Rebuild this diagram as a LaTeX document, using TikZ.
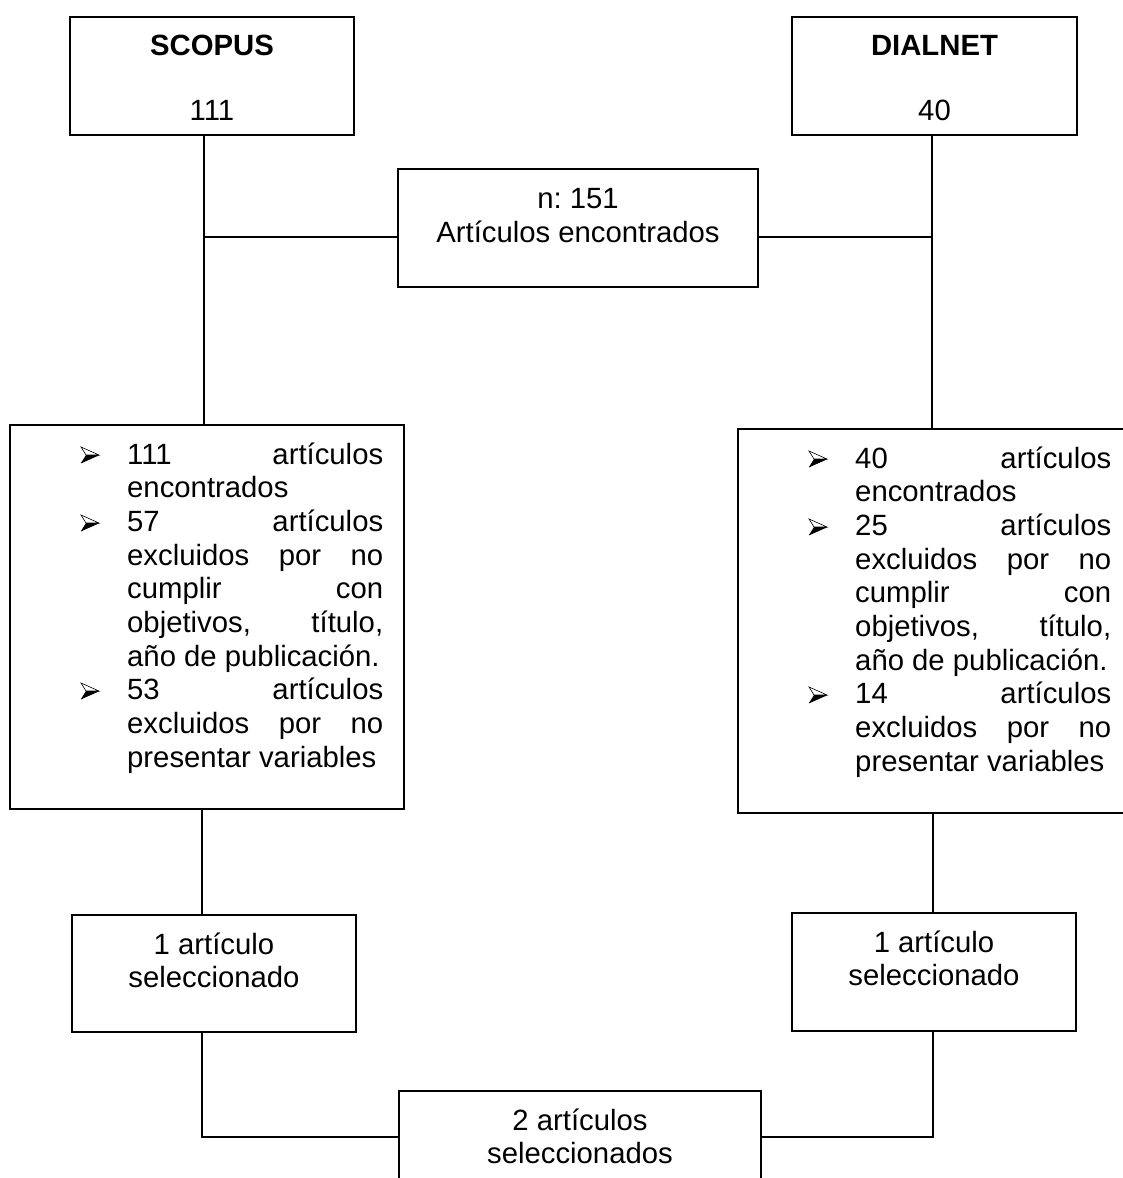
\documentclass[tikz,border=0pt]{standalone}
\usepackage{fontspec}
\setmainfont{Liberation Sans}
\frenchspacing
\newlength{\jw}
\setlength{\jw}{256pt}
\newcommand{\jline}[1]{\makebox[\jw][s]{#1}}
\begin{document}
\begin{tikzpicture}[x=1pt,y=-1pt,
  box/.style={draw=black,line width=1.6pt,minimum width=#1,inner sep=0pt},
  txt/.style={inner sep=0pt,font=\fontsize{29.3}{33.7}\selectfont},
  ltxt/.style={txt,anchor=base west},
  ctxt/.style={txt,anchor=base},
  conn/.style={line width=1.6pt},
  pics/bul/.style={code={
    \draw[line width=0.6pt,fill=white,line join=miter] (0,-8) -- (18,0) -- (5,0) -- cycle;
    \fill[black] (0,8) -- (18,0) -- (5,0) -- cycle;
    \draw[line width=0.6pt,line join=miter] (0,8) -- (18,0);
  }}]
\useasboundingbox (0,0) rectangle (1123,1178);
\clip (0,0) rectangle (1123,1178);
\fill[white] (0,0) rectangle (1123,1178);

% boxes
\node[box=284pt,minimum height=118pt] (scopus) at (212,76) {};
\node[box=285pt,minimum height=118pt] (dialnet) at (934.5,76) {};
\node[box=360pt,minimum height=118pt] (total) at (578,228) {};
\node[box=394pt,minimum height=384pt] (lbox) at (207,617) {};
\node[box=392pt,minimum height=384pt] (rbox) at (934,621) {};
\node[box=284pt,minimum height=117pt] (lsel) at (214,973.5) {};
\node[box=284pt,minimum height=118pt] (rsel) at (934,972) {};
\node[box=362pt,minimum height=130pt] (final) at (580,1156) {};

% box texts
\node[ctxt,font=\fontsize{29.3}{33.7}\selectfont\bfseries] (scopusT) at (212,55) {SCOPUS};
\node[ctxt] (scopusN) at (212,120) {111};
\node[ctxt,font=\fontsize{29.3}{33.7}\selectfont\bfseries] (dialnetT) at (934.5,55) {DIALNET};
\node[ctxt] (dialnetN) at (934.5,120) {40};
\node[ctxt] (totalA) at (578,208) {n: 151};
\node[ctxt] (totalB) at (578,242) {Artículos encontrados};
\node[ctxt] (lselA) at (214,954) {1 artículo};
\node[ctxt] (lselB) at (214,987) {seleccionado};
\node[ctxt] (rselA) at (934,952) {1 artículo};
\node[ctxt] (rselB) at (934,985) {seleccionado};
\node[ctxt] (finalA) at (580,1130) {2 artículos};
\node[ctxt] (finalB) at (580,1163) {seleccionados};

% left list
\node[ltxt] (L0) at (127,464) {\jline{111 artículos}};
\node[ltxt] (L1) at (127,497.7) {encontrados};
\node[ltxt] (L2) at (127,531.4) {\jline{57 artículos}};
\node[ltxt] (L3) at (127,565.1) {\jline{excluidos por no}};
\node[ltxt] (L4) at (127,598.8) {\jline{cumplir con}};
\node[ltxt] (L5) at (127,632.5) {\jline{objetivos, título,}};
\node[ltxt] (L6) at (127,666.2) {año de publicación.};
\node[ltxt] (L7) at (127,699.9) {\jline{53 artículos}};
\node[ltxt] (L8) at (127,733.6) {\jline{excluidos por no}};
\node[ltxt] (L9) at (127,767.3) {presentar variables};
\pic at (81,455) {bul};
\pic at (81,523) {bul};
\pic at (81,691) {bul};

% right list
\node[ltxt] (R0) at (855,468) {\jline{40 artículos}};
\node[ltxt] (R1) at (855,501.7) {encontrados};
\node[ltxt] (R2) at (855,535.4) {\jline{25 artículos}};
\node[ltxt] (R3) at (855,569.1) {\jline{excluidos por no}};
\node[ltxt] (R4) at (855,602.8) {\jline{cumplir con}};
\node[ltxt] (R5) at (855,636.5) {\jline{objetivos, título,}};
\node[ltxt] (R6) at (855,670.2) {año de publicación.};
\node[ltxt] (R7) at (855,703.9) {\jline{14 artículos}};
\node[ltxt] (R8) at (855,737.6) {\jline{excluidos por no}};
\node[ltxt] (R9) at (855,771.3) {presentar variables};
\pic at (809,459) {bul};
\pic at (809,527) {bul};
\pic at (809,695) {bul};

% junction coordinates
\coordinate (lj) at (204,237);
\coordinate (rj) at (932,237);
\coordinate (lb) at (202,1137);
\coordinate (rb) at (933,1137);

% connectors
\draw[conn] (scopus.south -| lj) -- (lbox.north -| lj);
\draw[conn] (dialnet.south -| rj) -- (rbox.north -| rj);
\draw[conn] (lj) -- (total.west |- lj);
\draw[conn] (total.east |- rj) -- (rj);
\draw[conn] (lbox.south -| lb) -- (lsel.north -| lb);
\draw[conn] (rbox.south -| rb) -- (rsel.north -| rb);
\draw[conn] (lsel.south -| lb) -- (lb) -- (final.west |- lb);
\draw[conn] (final.east |- rb) -- (rb) -- (rsel.south -| rb);
\end{tikzpicture}
\end{document}
